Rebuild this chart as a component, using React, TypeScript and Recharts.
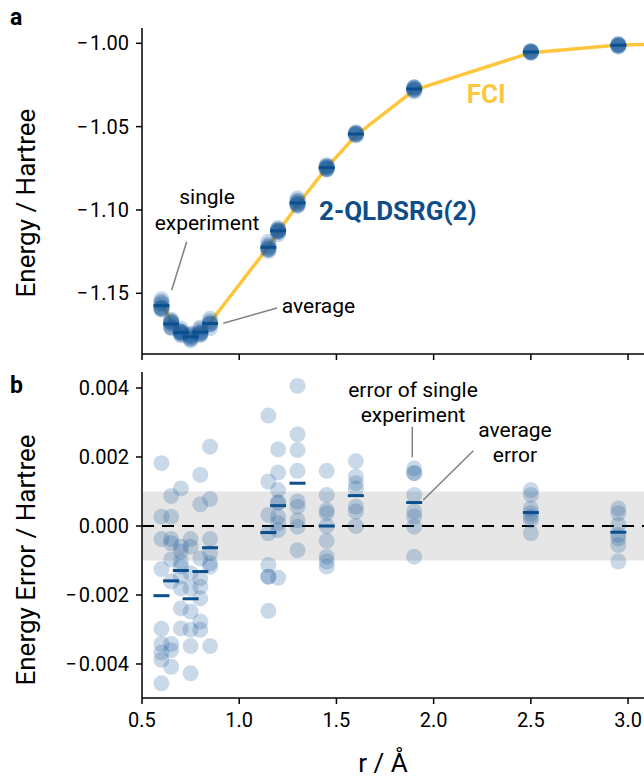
import React from 'react'
import { ComposedChart, Line, Scatter, XAxis, YAxis, ReferenceLine, ReferenceArea } from 'recharts'

// bond lengths (Å)
const rValues = [0.6, 0.65, 0.7, 0.75, 0.8, 0.85, 1.15, 1.2, 1.3, 1.45, 1.6, 1.9, 2.5, 2.95]

// FCI reference curve, last point sits past the right edge of the axes
const fciR = [0.6, 0.65, 0.7, 0.75, 0.8, 0.85, 1.15, 1.2, 1.3, 1.45, 1.6, 1.9, 2.5, 2.95, 3.2]
const fciEnergy = [
  -1.1554, -1.1668, -1.1722, -1.174, -1.172, -1.1675, -1.1222, -1.1131, -1.097, -1.0746, -1.0553, -1.0281,
  -1.0056, -1.001, -1.0005,
]

// error of every single experiment at each r (Hartree)
const experimentErrors = [
  [0.00182, 0.00027, -0.00038, -0.00125, -0.00298, -0.00342, -0.00367, -0.00388, -0.00456],
  [0.00087, 0.00027, -0.00038, -0.0005, -0.00097, -0.00161, -0.00342, -0.0036, -0.00408],
  [0.00109, -0.0006, -0.00074, -0.00103, -0.00118, -0.00147, -0.00181, -0.00239, -0.00297],
  [-0.00038, -0.0006, -0.00137, -0.00181, -0.00248, -0.00301, -0.00348, -0.00427],
  [0.00148, 0.00063, -0.00094, -0.00152, -0.00176, -0.0021, -0.00277, -0.00301],
  [0.0023, 0.00078, -0.00038, -0.00079, -0.00108, -0.00118, -0.00348],
  [0.0032, 0.00129, 0.00032, -0.00021, -0.00113, -0.00147, -0.00147, -0.00246],
  [0.00222, 0.00155, 0.00104, 0.00068, 0.00068, 0.00027, 0.00008, -0.00012, -0.0015],
  [0.00406, 0.00266, 0.0022, 0.0016, 0.00071, 0.00056, 0.00017, -0.00002, -0.0007],
  [0.0016, 0.0009, 0.00046, 0.00037, 0, -0.00043, -0.00089, -0.00103, -0.00118],
  [0.00188, 0.00143, 0.00124, 0.00109, 0.00056, 0.00042, 0],
  [0.00167, 0.00153, 0.00153, 0.0009, 0.00042, 0.00027, -0.00002, -0.00089],
  [0.00104, 0.0009, 0.00051, 0.00037, 0.00027, 0.00017, -0.00021],
  [0.00051, 0.00037, 0.00003, -0.00026, -0.00036, -0.00055, -0.00103],
]

// average error at each r
const averageErrors = [
  -0.00202, -0.00159, -0.00129, -0.00211, -0.00132, -0.00063, -0.00019, 0.00059, 0.00124, 0, 0.00088, 0.00068,
  0.00039, -0.00018,
]

const xTicks = [0.5, 1.0, 1.5, 2.0, 2.5, 3.0]
const energyTicks = [-1.15, -1.1, -1.05, -1.0]
const errorTicks = [-0.004, -0.002, 0, 0.002, 0.004]

const DOT_BLUE = '#1a5a9a'
const AVG_BLUE = '#0b4f8f'
const LABEL_BLUE = '#0f4d89'
const FCI_YELLOW = '#fec63d'
const FONT = 'Roboto, sans-serif'

// matplotlib-style minus with a little room after it
const fmt = (digits: number) => (v: number) => (v < 0 ? '\u2212\u200A' : '') + Math.abs(v).toFixed(digits)

const fciData = fciR.map((r, i) => ({ r, e: fciEnergy[i] }))
const energyPoints = rValues.flatMap((r, i) => experimentErrors[i].map((err) => ({ r, e: fciEnergy[i] + err })))
const energyAverages = rValues.map((r, i) => ({ r, e: fciEnergy[i] + averageErrors[i] }))
const errorPoints = rValues.flatMap((r, i) => experimentErrors[i].map((err) => ({ r, e: err })))
const errorAverages = rValues.map((r, i) => ({ r, e: averageErrors[i] }))

const Dot = (p: any) => <circle cx={p.cx} cy={p.cy} r={8} fill={DOT_BLUE} fillOpacity={0.23} />
const Dash = (p: any) => (
  <line x1={p.cx - 8} x2={p.cx + 8} y1={p.cy} y2={p.cy} stroke={AVG_BLUE} strokeWidth={3} />
)

const tickStyle = { fill: '#000', fontSize: 20, fontFamily: FONT }
const axisLine = { stroke: '#000', strokeWidth: 1.5 }
const tickLine = { stroke: '#000', strokeWidth: 1.5 }

export default function App() {
  return (
    <div style={{ position: 'absolute', left: 0, top: 0, width: 644, height: 777, overflow: 'hidden', background: '#fff' }}>
      <div style={{ position: 'absolute', left: 0, top: 0 }}>
        <ComposedChart width={644} height={362} margin={{ top: 28, right: 0, bottom: 0, left: 0 }}>
          <XAxis
            type="number"
            dataKey="r"
            domain={[0.5, 3.082]}
            ticks={xTicks}
            allowDataOverflow
            height={8}
            tick={() => <g />}
            tickSize={6}
            axisLine={axisLine}
            tickLine={tickLine}
          />
          <YAxis
            type="number"
            dataKey="e"
            domain={[-1.18642, -0.99082]}
            ticks={energyTicks}
            allowDataOverflow
            width={142}
            tickSize={6}
            tickMargin={7}
            tickFormatter={fmt(2)}
            tick={tickStyle}
            axisLine={axisLine}
            tickLine={tickLine}
          />
          <Line data={fciData} dataKey="e" type="linear" stroke={FCI_YELLOW} strokeWidth={3.5} dot={false} isAnimationActive={false} />
          <Scatter data={energyPoints} dataKey="e" shape={Dot} isAnimationActive={false} />
          <Scatter data={energyAverages} dataKey="e" shape={Dash} isAnimationActive={false} />
        </ComposedChart>
      </div>
      <div style={{ position: 'absolute', left: 0, top: 362 }}>
        <ComposedChart width={644} height={415} margin={{ top: 10, right: 0, bottom: 0, left: 0 }}>
          <XAxis
            type="number"
            dataKey="r"
            domain={[0.5, 3.082]}
            ticks={xTicks}
            allowDataOverflow
            height={79}
            tickSize={6}
            tickMargin={9}
            tickFormatter={(v: number) => v.toFixed(1)}
            tick={tickStyle}
            axisLine={axisLine}
            tickLine={tickLine}
          />
          <YAxis
            type="number"
            dataKey="e"
            domain={[-0.004986, 0.004464]}
            ticks={errorTicks}
            allowDataOverflow
            width={142}
            tickSize={6}
            tickMargin={7}
            tickFormatter={fmt(3)}
            tick={tickStyle}
            axisLine={axisLine}
            tickLine={tickLine}
          />
          <ReferenceArea y1={-0.001} y2={0.001} fill="#e6e6e6" fillOpacity={1} stroke="none" />
          <ReferenceLine y={0} stroke="#000" strokeWidth={2} strokeDasharray="12 8" />
          <Scatter data={errorPoints} dataKey="e" shape={Dot} isAnimationActive={false} />
          <Scatter data={errorAverages} dataKey="e" shape={Dash} isAnimationActive={false} />
        </ComposedChart>
      </div>
      <svg width={644} height={777} style={{ position: 'absolute', left: 0, top: 0, pointerEvents: 'none' }} fontFamily={FONT}>
        <text x={10} y={25} fontSize={23} fontWeight="bold">a</text>
        <text x={10} y={393} fontSize={23} fontWeight="bold">b</text>
        <text transform="translate(35,203) rotate(-90)" textAnchor="middle" fontSize={26}>Energy / Hartree</text>
        <text transform="translate(35,560) rotate(-90)" textAnchor="middle" fontSize={26}>Energy Error / Hartree</text>
        <text x={383} y={772} textAnchor="middle" fontSize={26}>r / Å</text>

        <text x={207} y={204} textAnchor="middle" fontSize={21}>single</text>
        <text x={207} y={230} textAnchor="middle" fontSize={21}>experiment</text>
        <line x1={186.7} y1={241.7} x2={171.7} y2={290} stroke="#808080" strokeWidth={1.5} />
        <text x={281.7} y={313} fontSize={21}>average</text>
        <line x1={223.3} y1={323.3} x2={277} y2={308} stroke="#808080" strokeWidth={1.5} />
        <text x={319} y={220} fontSize={26} fontWeight="bold" fill={LABEL_BLUE}>2-QLDSRG(2)</text>
        <text x={466.7} y={102.7} fontSize={26} fontWeight="bold" fill={FCI_YELLOW}>FCI</text>

        <text x={413} y={396.7} textAnchor="middle" fontSize={21}>error of single</text>
        <text x={413} y={421.7} textAnchor="middle" fontSize={21}>experiment</text>
        <line x1={412.3} y1={426.7} x2={412.3} y2={457.3} stroke="#808080" strokeWidth={1.5} />
        <text x={515} y={436.7} textAnchor="middle" fontSize={21}>average</text>
        <text x={515} y={461.7} textAnchor="middle" fontSize={21}>error</text>
        <line x1={473.3} y1={450.7} x2={423.3} y2={500} stroke="#808080" strokeWidth={1.5} />
      </svg>
    </div>
  )
}
